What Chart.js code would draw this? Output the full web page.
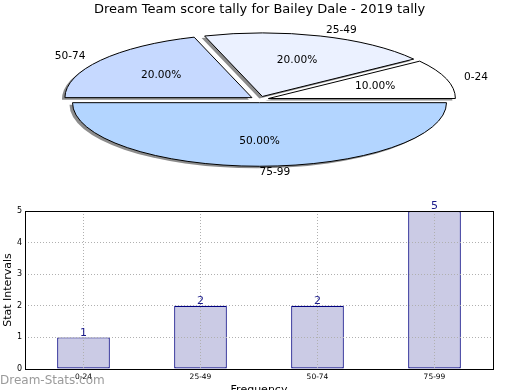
<!DOCTYPE html>
<html>
<head>
<meta charset="utf-8">
<script src="https://cdn.jsdelivr.net/npm/chart.js@4"></script>
<style>
  body { margin: 0; background: #fff; }
  #wrap { position: relative; width: 520px; height: 390px; overflow: hidden; }
  canvas { position: absolute; left: 0; }
</style>
</head>
<body>
<div id="wrap">
  <canvas id="pie" width="520" height="200" style="top:0"></canvas>
  <canvas id="bars" width="520" height="195" style="top:195px"></canvas>
</div>
<script>
const categories = ['0-24', '25-49', '50-74', '75-99'];
const counts = [1, 2, 2, 5];
const yTicks = [0, 1, 2, 3, 4, 5];
const sliceColors = ['#ffffff', '#ebf1ff', '#c6d9ff', '#b3d5ff'];
// pie goes round from 9 o'clock, like the original's counter-clockwise order
const pieOrder = [2, 1, 0, 3];

Chart.defaults.font.family = '"DejaVu Sans", sans-serif';
Chart.defaults.color = '#000';

const total = counts.reduce((a, b) => a + b, 0);
const pieLabels = pieOrder.map(i => categories[i]);
const pieValues = pieOrder.map(i => counts[i]);
const pieColors = pieOrder.map(i => sliceColors[i]);
const pctLabels = pieValues.map(v => (v / total * 100).toFixed(2) + '%');

const squash = 0.34;
const explodeFrac = 0.05;

const pieShape = {
  id: 'pieShape',
  afterDatasetsUpdate(chart) {
    chart.getDatasetMeta(0).data.forEach(arc => {
      const mid = (arc.startAngle + arc.endAngle) / 2;
      const e = arc.outerRadius * explodeFrac;
      arc.x += Math.cos(mid) * e;
      arc.y += Math.sin(mid) * e;
    });
  },
  beforeDatasetsDraw(chart) {
    const {ctx, chartArea: a} = chart;
    const cx = (a.left + a.right) / 2, cy = (a.top + a.bottom) / 2;
    ctx.save();
    ctx.translate(cx, cy);
    ctx.scale(1, squash);
    ctx.translate(-cx, -cy);
    ctx.shadowColor = 'rgba(0,0,0,0.45)';
    ctx.shadowOffsetX = -3;
    ctx.shadowOffsetY = 2;
  },
  afterDatasetsDraw(chart) {
    const {ctx, chartArea: a} = chart;
    const cy = (a.top + a.bottom) / 2;
    const arcs = chart.getDatasetMeta(0).data;
    ctx.shadowColor = 'transparent';
    ctx.beginPath();
    arcs.forEach(arc => {
      ctx.moveTo(arc.x, arc.y);
      ctx.arc(arc.x, arc.y, arc.outerRadius, arc.startAngle, arc.endAngle);
      ctx.closePath();
    });
    ctx.restore();
    ctx.save();
    ctx.lineWidth = 1;
    ctx.strokeStyle = '#000';
    ctx.stroke();

    ctx.font = '10.6px "DejaVu Sans"';
    ctx.fillStyle = '#000';
    ctx.textBaseline = 'middle';
    arcs.forEach((arc, i) => {
      const mid = (arc.startAngle + arc.endAngle) / 2;
      const c = Math.cos(mid), s = Math.sin(mid);
      const px = f => arc.x + c * arc.outerRadius * f;
      const py = f => cy + (arc.y - cy + s * arc.outerRadius * f) * squash;
      ctx.textAlign = 'center';
      ctx.fillText(pctLabels[i], px(0.6), py(0.6));
      ctx.textAlign = c >= 0 ? 'left' : 'right';
      ctx.fillText(pieLabels[i], px(1.1), py(1.1));
    });
    ctx.restore();
  }
};

new Chart(document.getElementById('pie'), {
  type: 'pie',
  data: {
    labels: pieLabels,
    datasets: [{
      data: pieValues,
      backgroundColor: pieColors,
      borderWidth: 0,
      clip: false
    }]
  },
  options: {
    responsive: false,
    animation: false,
    rotation: -90,
    radius: 187,
    layout: { padding: { left: 0, right: 1, top: 0, bottom: 18.6 } },
    plugins: {
      legend: { display: false },
      tooltip: { enabled: false },
      title: {
        display: true,
        text: 'Dream Team score tally for Bailey Dale - 2019 tally',
        font: { size: 13, weight: 'normal' },
        color: '#000',
        padding: { top: 2, bottom: 0 }
      }
    }
  },
  plugins: [pieShape]
});

const barExtras = {
  id: 'barExtras',
  afterDraw(chart) {
    const {ctx, chartArea: a} = chart;
    ctx.save();
    ctx.strokeStyle = '#000';
    ctx.lineWidth = 1;
    ctx.strokeRect(a.left + 0.5, a.top + 0.5, a.width, a.height);

    ctx.fillStyle = '#1a1a8a';
    ctx.font = '11px "DejaVu Sans"';
    ctx.textAlign = 'center';
    ctx.textBaseline = 'bottom';
    chart.getDatasetMeta(0).data.forEach((bar, i) => {
      ctx.fillText(String(counts[i]), bar.x, bar.y + 1);
    });

    ctx.fillStyle = 'rgba(120,120,120,0.75)';
    ctx.font = '12px "DejaVu Sans"';
    ctx.textAlign = 'left';
    ctx.textBaseline = 'alphabetic';
    ctx.fillText('Dream-Stats.com', 0, 189);
    ctx.restore();
  }
};

new Chart(document.getElementById('bars'), {
  type: 'bar',
  data: {
    labels: categories,
    datasets: [{
      data: counts,
      backgroundColor: '#cbcbe5',
      borderColor: '#000080',
      borderWidth: 1.2,
      borderSkipped: false,
      barPercentage: 0.45,
      categoryPercentage: 1
    }]
  },
  options: {
    responsive: false,
    animation: false,
    layout: { padding: { top: 16, right: 27, left: 0, bottom: 0 } },
    plugins: { legend: { display: false }, tooltip: { enabled: false } },
    scales: {
      x: {
        offset: true,
        grid: { offset: false, color: '#b0b0b0', drawTicks: false, z: 1 },
        border: { display: false, dash: [1, 2] },
        ticks: { font: { size: 7.5 }, padding: 4, maxRotation: 0 },
        title: { display: true, text: 'Frequency', font: { size: 11 }, padding: { top: 0, bottom: -6.6 } },
        afterFit: s => { s.height = 21; }
      },
      y: {
        min: yTicks[0],
        max: yTicks[yTicks.length - 1],
        grid: { color: '#b0b0b0', drawTicks: false, z: 1 },
        border: { display: false, dash: [1, 2] },
        ticks: { stepSize: 1, font: { size: 8 }, padding: 3 },
        title: { display: true, text: 'Stat Intervals', font: { size: 11 }, padding: { top: 2, bottom: 0 } },
        afterFit: s => { s.width = 25; }
      }
    }
  },
  plugins: [barExtras]
});
</script>
</body>
</html>
